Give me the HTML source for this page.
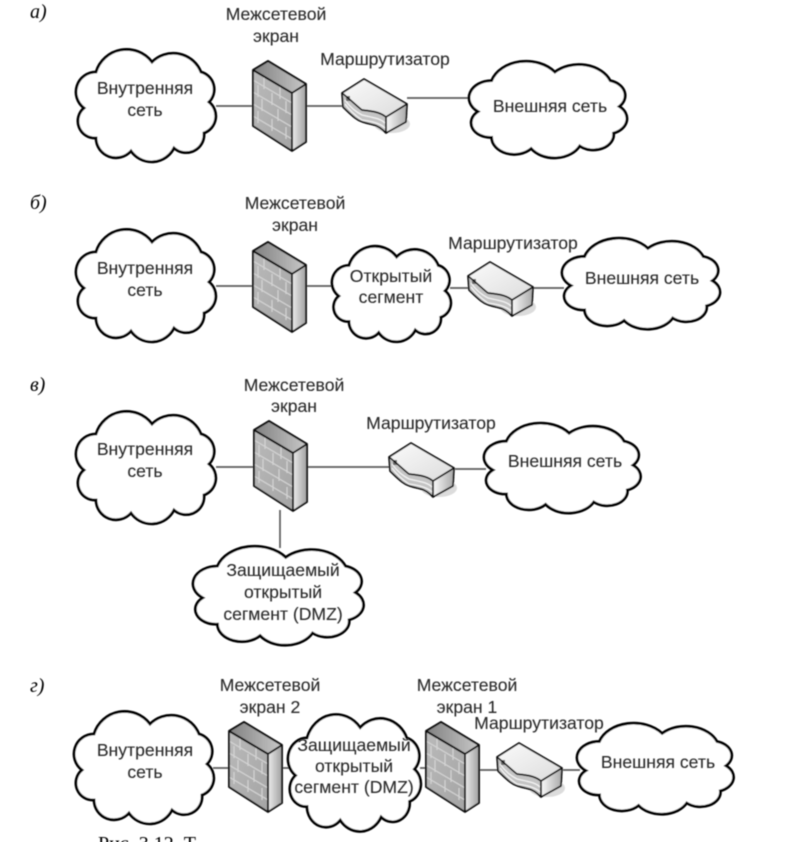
<!DOCTYPE html>
<html lang="ru"><head><meta charset="utf-8"><style>
html,body{margin:0;padding:0;background:#fff;width:788px;height:842px;overflow:hidden}
svg{display:block}
text{font-family:"Liberation Sans",sans-serif;font-size:17.6px;fill:#2a2a2a;stroke:#2a2a2a;stroke-width:.1;text-anchor:middle}
.l{font-family:"Liberation Serif",serif;font-style:italic;font-size:20px;fill:#000;stroke:none;text-anchor:start}
.c{font-family:"Liberation Serif",serif;font-size:20px;fill:#000;stroke:none;text-anchor:start}
.w{stroke:#5c5c5c;stroke-width:1.7;fill:none}
.cl{fill:#fff;stroke:#000;stroke-width:2.8;vector-effect:non-scaling-stroke}
</style></head><body>
<svg width="788" height="842" viewBox="0 0 788 842" xmlns="http://www.w3.org/2000/svg">
<defs>
<filter id="b" x="-5%" y="-5%" width="110%" height="110%"><feGaussianBlur stdDeviation="0.4"/></filter>
<linearGradient id="f" x1="0" y1="0" x2="1" y2="1"><stop offset="0" stop-color="#bababa"/><stop offset="1" stop-color="#a4a4a4"/></linearGradient>
<linearGradient id="t" x1="0" y1="0" x2="1" y2="0"><stop offset="0" stop-color="#808080"/><stop offset="1" stop-color="#c8c8c8"/></linearGradient>
<linearGradient id="s" x1="0" y1="0" x2="1" y2="0"><stop offset="0" stop-color="#ececec"/><stop offset="1" stop-color="#a0a0a0"/></linearGradient>
<linearGradient id="r" x1="0" y1="0" x2="1" y2="1"><stop offset="0" stop-color="#fbfbfb"/><stop offset="1" stop-color="#dcdcdc"/></linearGradient>
<linearGradient id="rs" x1="0" y1="0" x2="1" y2="0"><stop offset="0" stop-color="#fafafa"/><stop offset="1" stop-color="#a8a8a8"/></linearGradient>
<path id="cp" class="cl" d="M20 24A32 32 0 0 1 76 14A30 30 0 0 1 125 24A18 18 0 0 1 133 54A18 18 0 0 1 128 85A18 18 0 0 1 98 100A25 25 0 0 1 55 103A20 20 0 0 1 20 90A17 17 0 0 1 8 60A20 20 0 0 1 20 24Z"/>
<g id="fw">
<polygon points="1,8 40,31 40,89 1,64" fill="url(#f)"/>
<polygon points="1,8 16,-1 54,22 40,31" fill="url(#t)"/>
<polygon points="40,31 54,22 54,80 40,89" fill="url(#s)"/>
<path d="M1 18L40 41M1 30L40 53M1 42L40 65M1 54L40 77M12 15V27M28 25V37M6 23V35M20 31V43M34 39V51M10 37V49M26 47V59M6 49V61M20 57V69M34 65V77" stroke="#d4d4d4" stroke-width="1.2" fill="none"/>
<path d="M1 8L16 -1L54 22V80L40 89L1 64ZM1 8L40 31L54 22M40 31V89" fill="none" stroke="#0a0a0a" stroke-width="1.9" stroke-linejoin="round"/>
</g>
<g id="rt">
<ellipse cx="50" cy="45" rx="18" ry="9" fill="#dcdcdc"/>
<path d="M0 14L22 0L65 25L44 38C38 33 30 32 20 31C16 28 10 22 0 14Z" fill="url(#r)"/>
<polygon points="44,38 65,25 64,43 44,54" fill="url(#rs)"/>
<path d="M0 14C10 22 16 28 20 31C30 32 38 33 44 38V54C40 50 36 47 32 46C24 44 18 43 13 39C8 35 4 31 1 28Z" fill="#c4c4c4"/>
<path d="M3 21C8 28 14 33 20 36C28 38 38 39 43 44M3 25C8 32 14 37 20 41C28 42 38 44 43 49" stroke="#f4f4f4" stroke-width="1.3" fill="none"/>
<rect x="4" y="17" width="4" height="5" fill="#666"/>
<path d="M0 14L22 0L65 25L64 43L44 54C40 50 36 47 32 46C24 44 18 43 13 39C8 35 4 31 1 28ZM0 14C10 22 16 28 20 31C30 32 38 33 44 38V54M44 38L65 25" fill="none" stroke="#0a0a0a" stroke-width="1.7" stroke-linejoin="round"/>
</g>
</defs>
<g filter="url(#b)">
<path class="w" d="M216 106H252M307 106H342M407 98H472"/>
<path class="w" d="M216 286H252M307 286H334M450 288H468M533 288H564"/>
<path class="w" d="M216 467H253M307 467H390M455 469H486M280 510V548"/>
<path class="w" d="M213 768H229M283 768H290M420 768H426M480 770H498M563 770H580"/>
<use href="#cp" transform="translate(76 48)"/>
<use href="#cp" transform="translate(469 60) scale(1.13 .86)"/>
<use href="#cp" transform="translate(76 228)"/>
<use href="#cp" transform="translate(332 245) scale(.85 .85)"/>
<use href="#cp" transform="translate(562 237) scale(1.13 .81)"/>
<use href="#cp" transform="translate(76 410)"/>
<use href="#cp" transform="translate(484 422) scale(1.12 .8)"/>
<use href="#cp" transform="translate(193 545) scale(1.22 .88)"/>
<use href="#cp" transform="translate(74 710)"/>
<use href="#cp" transform="translate(288 713) scale(.95 1.04)"/>
<use href="#cp" transform="translate(577 722) scale(1.12 .81)"/>
<use href="#fw" x="252" y="62"/>
<use href="#fw" x="252" y="243"/>
<use href="#fw" x="253" y="422"/>
<use href="#fw" x="228" y="723"/>
<use href="#fw" x="425" y="723"/>
<use href="#rt" x="342" y="79"/>
<use href="#rt" x="468" y="262"/>
<use href="#rt" x="389" y="443"/>
<use href="#rt" x="497" y="743"/>
</g>
<g filter="url(#b)">
<text x="276" y="20">Межсетевой</text><text x="276" y="42">экран</text>
<text x="385" y="65">Маршрутизатор</text>
<text x="145" y="94">Внутренняя</text><text x="145" y="116">сеть</text>
<text x="550" y="112">Внешняя сеть</text>
<text x="295" y="209">Межсетевой</text><text x="295" y="231">экран</text>
<text x="513" y="249">Маршрутизатор</text>
<text x="145" y="274">Внутренняя</text><text x="145" y="296">сеть</text>
<text x="391" y="282">Открытый</text><text x="391" y="303">сегмент</text>
<text x="642" y="284">Внешняя сеть</text>
<text x="294" y="391">Межсетевой</text><text x="294" y="412">экран</text>
<text x="431" y="429">Маршрутизатор</text>
<text x="145" y="455">Внутренняя</text><text x="145" y="477">сеть</text>
<text x="565" y="467">Внешняя сеть</text>
<text x="283" y="576">Защищаемый</text><text x="283" y="598">открытый</text><text x="283" y="620">сегмент (DMZ)</text>
<text x="270" y="691">Межсетевой</text><text x="270" y="713">экран 2</text>
<text x="467" y="691">Межсетевой</text><text x="467" y="713">экран 1</text>
<text x="539" y="729">Маршрутизатор</text>
<text x="145" y="756">Внутренняя</text><text x="145" y="778">сеть</text>
<text x="354" y="751">Защищаемый</text><text x="354" y="772">открытый</text><text x="354" y="793">сегмент (DMZ)</text>
<text x="658" y="768">Внешняя сеть</text>
<text class="l" x="30" y="18">а)</text>
<text class="l" x="30" y="209">б)</text>
<text class="l" x="30" y="391">в)</text>
<text class="l" x="30" y="692">г)</text>
<text class="c" x="98" y="850">Рис. 3.12. Т</text>
</g>
</svg>
</body></html>
